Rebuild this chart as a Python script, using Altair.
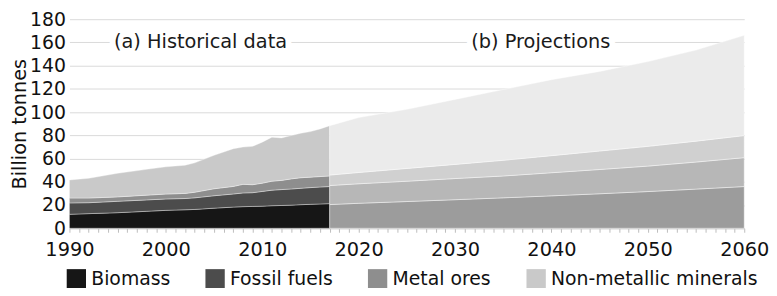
import altair as alt
import pandas as pd

categories = ["Biomass", "Fossil fuels", "Metal ores", "Non-metallic minerals"]

# Historical data (billion tonnes)
hist_years = [1990, 1992, 1995, 1998, 2000, 2002, 2003, 2005, 2007, 2008,
              2009, 2010, 2011, 2012, 2013, 2014, 2015, 2016, 2017]
hist_biomass = [12.0, 12.6, 13.4, 14.6, 15.4, 15.9, 16.2, 17.3, 18.2, 18.6,
                18.8, 19.0, 19.4, 19.6, 19.9, 20.3, 20.6, 20.9, 21.2]
hist_fossil = [9.8, 9.4, 9.8, 9.8, 9.8, 9.7, 10.0, 10.7, 11.3, 11.8,
               11.8, 12.7, 13.4, 13.7, 13.9, 14.1, 14.4, 14.6, 14.7]
hist_metal = [4.2, 4.0, 3.8, 4.1, 4.2, 4.4, 4.8, 6.0, 6.5, 7.4,
              6.9, 7.1, 7.7, 7.9, 8.7, 9.1, 9.0, 9.0, 9.1]
hist_nonmetal = [15.6, 17.0, 20.3, 22.2, 23.5, 24.3, 25.3, 28.8, 32.5, 32.1,
                 33.0, 35.3, 37.9, 36.6, 37.3, 38.3, 39.2, 41.0, 43.3]

# Projections (billion tonnes)
proj_years = [2017, 2020, 2025, 2030, 2035, 2040, 2045, 2050, 2055, 2060]
proj_biomass = [20.4, 21.5, 23.0, 24.6, 26.2, 27.9, 29.7, 31.6, 33.7, 35.9]
proj_fossil = [16.4, 16.8, 17.5, 18.2, 18.8, 19.9, 20.9, 21.9, 23.3, 24.9]
proj_metal = [9.0, 9.7, 11.0, 12.2, 13.5, 14.7, 15.9, 17.0, 18.0, 19.0]
proj_nonmetal = [42.5, 47.3, 50.9, 55.9, 60.9, 65.4, 68.5, 73.0, 78.4, 86.3]

hist_colors = ["#161616", "#4c4c4c", "#8e8e8e", "#c9c9c9"]
proj_colors = ["#9c9c9c", "#b7b7b7", "#d0d0d0", "#ebebeb"]

ann_text = ["(a) Historical data", "(b) Projections"]
ann_year = [2003.6, 2038.9]
ann_value = [160, 160]

x_ticks = list(range(1990, 2061))
y_ticks = list(range(0, 181, 20))

FONT = "DejaVu Sans"
FS = 19.5


def long_table(years, series):
    rows = []
    for k, (cat, vals) in enumerate(zip(categories, series)):
        for yr, v in zip(years, vals):
            rows.append({"year": yr, "value": v, "category": cat, "ord": k})
    return pd.DataFrame(rows)


hist_df = long_table(hist_years, [hist_biomass, hist_fossil, hist_metal, hist_nonmetal])
proj_df = long_table(proj_years, [proj_biomass, proj_fossil, proj_metal, proj_nonmetal])
ann_df = pd.DataFrame({"year": ann_year, "value": ann_value, "label": ann_text})

x_scale = alt.Scale(domain=[1990, 2060], nice=False, zero=False)
x_axis = alt.Axis(
    title=None,
    values=x_ticks,
    labelExpr="datum.value % 10 == 0 ? format(datum.value, 'd') : ''",
    labelOverlap=False,
    labelFlush=False,
    grid=False,
    domainColor="#c8c8c8",
    tickColor="#bdbdbd",
    tickSize=4,
    labelPadding=8,
    labelFontSize=FS,
    labelColor="#111111",
)

y_scale = alt.Scale(domain=[0, 180], nice=False)
y_axis = alt.Axis(
    title="Billion tonnes",
    values=y_ticks,
    labelOverlap=False,
    domain=False,
    ticks=False,
    grid=True,
    gridColor="#dadada",
    labelFontSize=19,
    labelColor="#111111",
    labelPadding=4,
    titleFontSize=FS,
    titleFontWeight="normal",
    titleColor="#111111",
    titlePadding=0,
)


def xe():
    return alt.X("year:Q", scale=x_scale, axis=x_axis)


def ye(stacked):
    if stacked:
        return alt.Y("value:Q", stack="zero", scale=y_scale, axis=y_axis)
    return alt.Y("value:Q", scale=y_scale, axis=y_axis)


hist_area = alt.Chart(hist_df).mark_area(
    stroke="#ffffff", strokeWidth=0.7, strokeOpacity=0.5
).encode(
    x=xe(),
    y=ye(True),
    color=alt.Color(
        "category:N",
        scale=alt.Scale(domain=categories, range=hist_colors),
        legend=alt.Legend(
            orient="none",
            legendX=-3,
            legendY=252,
            direction="horizontal",
            title=None,
            symbolType="square",
            symbolSize=380,
            symbolStrokeWidth=0,
            labelFontSize=19,
            labelColor="#111111",
            labelOffset=5,
            columnPadding=35,
            labelLimit=400,
        ),
    ),
    order=alt.Order("ord:Q"),
)

proj_area = alt.Chart(proj_df).mark_area(
    stroke="#ffffff", strokeWidth=0.7, strokeOpacity=0.6
).encode(
    x=xe(),
    y=ye(True),
    fill=alt.Fill(
        "category:N",
        scale=alt.Scale(domain=categories, range=proj_colors),
        legend=None,
    ),
    order=alt.Order("ord:Q"),
)

halo = alt.Chart(ann_df).mark_text(
    fontSize=FS, font=FONT, align="center", baseline="middle",
    stroke="#ffffff", strokeWidth=12, fill="#ffffff",
).encode(
    x=xe(), y=ye(False), text="label:N"
)

ann = alt.Chart(ann_df).mark_text(
    fontSize=FS, font=FONT, align="center", baseline="middle", color="#1a1a1a",
).encode(
    x=xe(), y=ye(False), text="label:N"
)

chart = alt.layer(hist_area, proj_area, halo, ann).properties(
    width=681,
    height=211,
    autosize=alt.AutoSizeParams(type="none"),
    padding={"left": 62, "top": 10, "right": 25, "bottom": 59},
).configure(
    font=FONT,
).configure_view(
    stroke=None
)

chart.save("out.html", embed_options={"renderer": "svg", "actions": False})
